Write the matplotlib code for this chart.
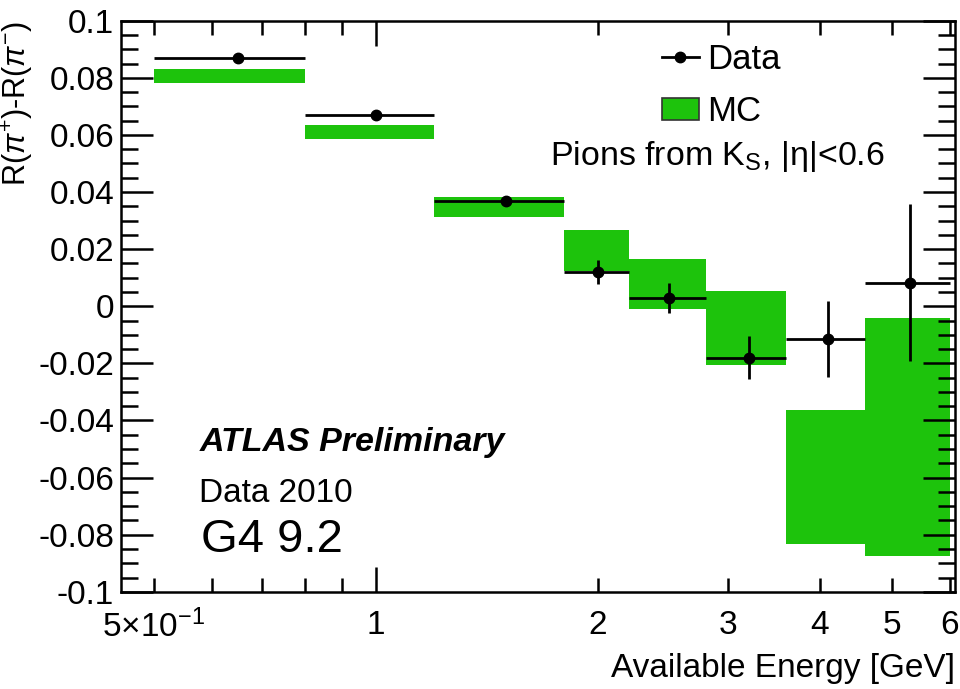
import matplotlib
matplotlib.use("Agg")
import matplotlib.pyplot as plt
from matplotlib.lines import Line2D
from matplotlib.patches import Patch
from matplotlib.ticker import MultipleLocator

plt.rcParams.update({
    "font.family": ["Liberation Sans", "DejaVu Sans"],
    "mathtext.fontset": "custom",
    "mathtext.rm": "Liberation Sans",
    "mathtext.it": "Liberation Sans:italic",
    "mathtext.bf": "Liberation Sans:bold",
})

# binning in available energy [GeV]
bin_edges = [0.5, 0.8, 1.2, 1.8, 2.2, 2.8, 3.6, 4.6, 6.0]

# data: point position, asymmetry and stat. error
data_x = [0.65, 1.0, 1.5, 2.0, 2.5, 3.2, 4.1, 5.3]
data_y = [0.0868, 0.0669, 0.0368, 0.0120, 0.0029, -0.0180, -0.0113, 0.0082]
data_err = [0.001, 0.001, 0.001, 0.0043, 0.0054, 0.0075, 0.0133, 0.0275]

# MC band (lower / upper edge per bin)
mc_lo = [0.0782, 0.0585, 0.0311, 0.0124, -0.0008, -0.0204, -0.0831, -0.0875]
mc_hi = [0.0830, 0.0636, 0.0383, 0.0266, 0.0167, 0.0054, -0.0364, -0.0040]

GREEN = "#1dc30c"

fig = plt.figure(figsize=(9.6, 6.89), dpi=100)
ax = fig.add_axes([0.126, 0.141, 0.869, 0.829])

for lo_e, hi_e, lo, hi in zip(bin_edges[:-1], bin_edges[1:], mc_lo, mc_hi):
    ax.fill_between([lo_e, hi_e], lo, hi, color=GREEN, lw=0, zorder=1)

x_lo = [x - e for x, e in zip(data_x, bin_edges[:-1])]
x_hi = [e - x for x, e in zip(data_x, bin_edges[1:])]
ax.errorbar(data_x, data_y, xerr=[x_lo, x_hi], yerr=data_err, fmt="o",
            color="black", ms=7.5, elinewidth=2.0, capsize=0, zorder=3)

ax.set_xscale("log")
ax.set_xlim(0.451, 6.1)
ax.set_ylim(-0.1, 0.1)

ax.set_xticks([1], labels=["1"])
minor_x = [0.5, 0.6, 0.7, 0.8, 0.9, 2, 3, 4, 5, 6]
minor_lab = [r"5$\times$10$^{-1}$", "", "", "", "", "2", "3", "4", "5", "6"]
ax.set_xticks(minor_x, labels=minor_lab, minor=True)
ax.yaxis.set_minor_locator(MultipleLocator(0.005))
ax.set_yticks([-0.1, -0.08, -0.06, -0.04, -0.02, 0, 0.02, 0.04, 0.06, 0.08, 0.1],
              labels=["-0.1", "-0.08", "-0.06", "-0.04", "-0.02", "0",
                      "0.02", "0.04", "0.06", "0.08", "0.1"])

ax.tick_params(which="both", direction="in", top=True, right=True,
               labelsize=24, width=1.8, color="black")
ax.tick_params(axis="y", which="major", length=23, pad=5)
ax.tick_params(axis="y", which="minor", length=12)
ax.tick_params(axis="x", which="major", length=18, pad=13)
ax.tick_params(axis="x", which="minor", length=10, pad=13)
for s in ax.spines.values():
    s.set_linewidth(1.8)

ax.set_xlabel("Available Energy [GeV]", fontsize=24, loc="right", labelpad=6)
ax.set_ylabel(r"R($\pi^{+}$)-R($\pi^{-}$)", fontsize=22, loc="top", labelpad=2)

handles = [
    Line2D([], [], color="black", marker="o", ms=7.5, lw=2.0),
    Patch(facecolor=GREEN, edgecolor="#333333", lw=1.2),
]
ax.legend(handles, ["Data", "MC"], loc="upper left", bbox_to_anchor=(0.632, 0.985),
          frameon=False, fontsize=25, handlelength=1.05, handleheight=0.6,
          handletextpad=0.25, labelspacing=0.55, borderaxespad=0)

ax.text(0.915, 0.762, r"Pions from K$_{\mathrm{S}}$, |$\mathrm{\eta}$|<0.6",
        transform=ax.transAxes, fontsize=24.5, ha="right", va="center")

ax.text(0.094, 0.262, "ATLAS Preliminary", transform=ax.transAxes, fontsize=24.5,
        fontweight="bold", fontstyle="italic", va="center")
ax.text(0.094, 0.173, "Data 2010", transform=ax.transAxes, fontsize=24, va="center")
ax.text(0.096, 0.090, "G4 9.2", transform=ax.transAxes, fontsize=34, va="center")

fig.savefig("out.png", dpi=100)
